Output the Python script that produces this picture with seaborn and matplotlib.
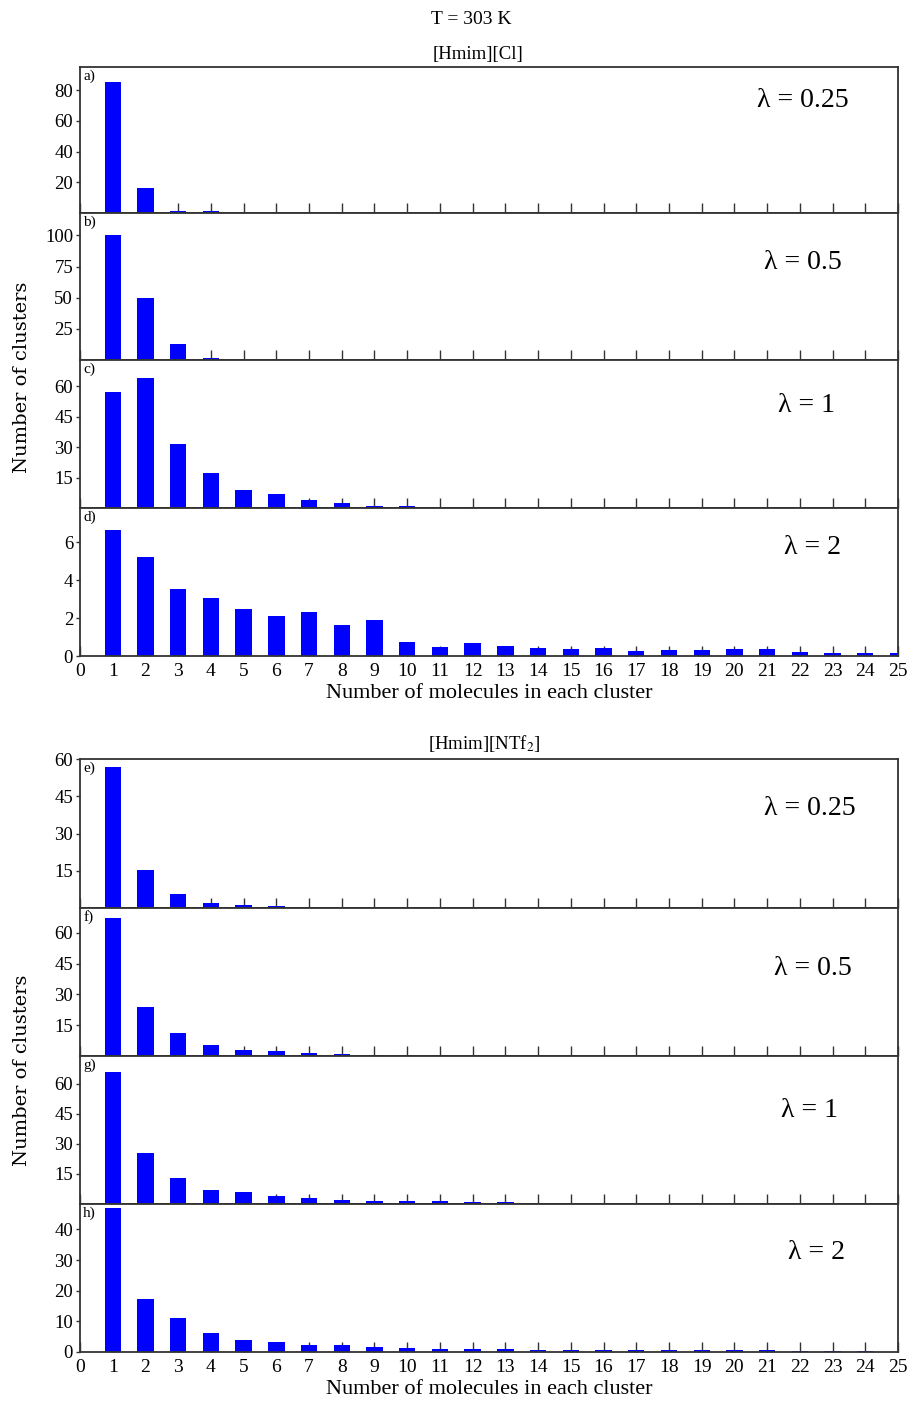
import matplotlib
matplotlib.use("Agg")
import matplotlib.pyplot as plt
import seaborn as sns
import pandas as pd

# Cluster size (number of molecules in a cluster)
cluster_sizes = list(range(1, 26))

# [Hmim][Cl], T = 303 K
hmim_cl_l025 = [85.5, 16.3, 1.5, 1.0] + [0.0] * 21
hmim_cl_l05 = [100.0, 50.0, 13.0, 2.0, 0.3] + [0.0] * 20
hmim_cl_l1 = [57.3, 64.1, 31.4, 17.3, 9.1, 6.7, 4.0, 2.3, 0.8, 0.8, 0.4, 0.3] + [0.0] * 13
hmim_cl_l2 = [6.66, 5.2, 3.55, 3.07, 2.47, 2.1, 2.31, 1.62, 1.92, 0.75, 0.46, 0.66,
              0.52, 0.44, 0.39, 0.43, 0.25, 0.32, 0.32, 0.37, 0.37, 0.21, 0.18, 0.18, 0.16]

# [Hmim][NTf2], T = 303 K
hmim_ntf2_l025 = [56.9, 15.5, 5.7, 2.0, 1.1, 0.7, 0.3, 0.2] + [0.0] * 17
hmim_ntf2_l05 = [67.1, 24.0, 11.3, 5.5, 2.75, 2.4, 1.6, 0.95, 0.6, 0.5, 0.3, 0.2, 0.15, 0.1] + [0.0] * 11
hmim_ntf2_l1 = [66.0, 25.4, 12.8, 7.0, 6.0, 4.1, 3.1, 2.0, 1.5, 1.4, 1.4, 1.2, 0.8,
                0.7, 0.6, 0.5, 0.4, 0.4, 0.3, 0.3, 0.3, 0.3, 0.2, 0.2, 0.0]
hmim_ntf2_l2 = [47.0, 17.3, 11.0, 6.1, 3.9, 3.2, 2.2, 2.2, 1.7, 1.4, 1.1, 1.1, 0.9,
                0.8, 0.8, 0.7, 0.6, 0.6, 0.6, 0.5, 0.5, 0.4, 0.4, 0.3, 0.0]

panel_letters = ["a)", "b)", "c)", "d)", "e)", "f)", "g)", "h)"]
lambda_labels = ["λ = 0.25", "λ = 0.5", "λ = 1", "λ = 2",
                 "λ = 0.25", "λ = 0.5", "λ = 1", "λ = 2"]
y_ticks = [[20, 40, 60, 80], [25, 50, 75, 100], [15, 30, 45, 60], [0, 2, 4, 6],
           [15, 30, 45, 60], [15, 30, 45, 60], [15, 30, 45, 60], [0, 10, 20, 30, 40]]
y_limits = [95, 118, 73, 7.8, 60, 72, 74, 48.3]
x_ticks = list(range(0, 26))

series = [hmim_cl_l025, hmim_cl_l05, hmim_cl_l1, hmim_cl_l2,
          hmim_ntf2_l025, hmim_ntf2_l05, hmim_ntf2_l1, hmim_ntf2_l2]

sns.set_theme(style="white")
plt.rcParams["font.family"] = ["Liberation Serif", "DejaVu Serif"]
plt.rcParams["mathtext.fontset"] = "stix"
for key in ("text.color", "axes.labelcolor", "xtick.color", "ytick.color"):
    plt.rcParams[key] = "black"

W, H = 913, 1404
fig = plt.figure(figsize=(W / 100, H / 100), dpi=100)

left_px, right_px = 80, 898
edges_top = [67, 213, 360, 508, 656]
edges_bot = [759, 908, 1056, 1204, 1352]
panel_edges = [(edges_top[i], edges_top[i + 1]) for i in range(4)] + \
              [(edges_bot[i], edges_bot[i + 1]) for i in range(4)]

# λ label placement (axes-fraction y, data x)
lam_y = [0.77, 0.66, 0.69, 0.735, 0.665, 0.59, 0.635, 0.675]
lam_x = [22.1, 22.1, 22.2, 22.4, 22.3, 22.4, 22.3, 22.5]

frame_color = "#333333"
for i, vals in enumerate(series):
    top, bot = panel_edges[i]
    ax = fig.add_axes([left_px / W, 1 - bot / H, (right_px - left_px) / W, (bot - top) / H])
    df = pd.DataFrame({"size": cluster_sizes, "count": vals})
    sns.barplot(data=df, x="size", y="count", native_scale=True, width=0.5,
                color="#0000ff", saturation=1, errorbar=None, linewidth=0, ax=ax)
    ax.set_xlim(0, 25)
    ax.set_ylim(0, y_limits[i])
    ax.set_yticks(y_ticks[i])
    ax.set_xticks(x_ticks)
    ax.set_xlabel("")
    ax.set_ylabel("")
    for s in ax.spines.values():
        s.set_color(frame_color)
        s.set_linewidth(1.3)
    ax.tick_params(axis="x", direction="in", length=7, width=1.0, color=frame_color,
                   labelsize=14, pad=5, top=False, bottom=True)
    ax.tick_params(axis="y", direction="out", length=3, width=1.0, color=frame_color,
                   labelsize=13.5, pad=2, left=True)
    if i in (3, 7):
        ax.set_xticklabels([str(t) for t in x_ticks])
        ax.set_xlabel("Number of molecules in each cluster", fontsize=16, labelpad=3)
    else:
        ax.set_xticklabels([])
    ax.text(0.004, 0.985, panel_letters[i], transform=ax.transAxes, ha="left", va="top",
            fontsize=11)
    ax.text(lam_x[i], lam_y[i] * y_limits[i], lambda_labels[i], ha="center", va="center",
            fontsize=20)

fig.text(471 / W, 1 - 20 / H, "T = 303 K", ha="center", va="center", fontsize=14)
fig.text(478 / W, 1 - 54 / H, "[Hmim][Cl]", ha="center", va="center", fontsize=13.5)
fig.text(484 / W, 1 - 743 / H, "[Hmim][NTf$_2$]", ha="center", va="center", fontsize=13.5)

fig.text(22 / W, 1 - 377 / H, "Number of clusters", rotation=90, ha="center", va="center",
         fontsize=14, family="DejaVu Serif")
fig.text(22 / W, 1 - 1070 / H, "Number of clusters", rotation=90, ha="center", va="center",
         fontsize=14, family="DejaVu Serif")

fig.savefig("out.png", dpi=100)
